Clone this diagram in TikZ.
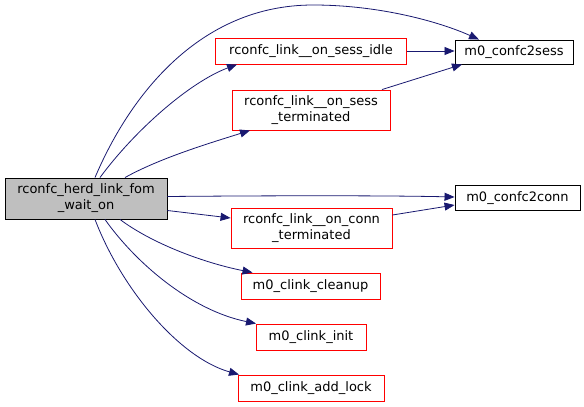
\documentclass[tikz,border=0pt]{standalone}
\usepackage{fontspec}
\setmainfont{DejaVu Sans}
\usetikzlibrary{arrows.meta}
\definecolor{edgecol}{HTML}{191970}
\definecolor{mainfill}{HTML}{BFBFBF}
\tikzset{
  fbox/.style={draw=black, line width=0.9pt, inner sep=0pt, align=center,
    font=\fontsize{13}{16}\selectfont},
  blackbox/.style={fbox, fill=white},
  redbox/.style={fbox, draw=red, fill=white},
  mainbox/.style={fbox, fill=mainfill},
  edge/.style={draw=edgecol, line width=0.8pt, -{Triangle[length=10pt,width=8pt]}},
}
\begin{document}
\begin{tikzpicture}[x=1pt,y=-1pt]
\useasboundingbox (0,0) rectangle (584,407);
\node[mainbox, minimum width=162pt, minimum height=41pt] (main) at (86,198.5) {rconfc\_herd\_link\_fom\\\_wait\_on};
\node[redbox, minimum width=191pt, minimum height=26pt] (idle) at (311,51) {rconfc\_link\_\_on\_sess\_idle};
\node[blackbox, minimum width=118pt, minimum height=24pt] (c2sess) at (514,52) {m0\_confc2sess};
\node[redbox, minimum width=158pt, minimum height=40pt] (sessterm) at (311,110) {rconfc\_link\_\_on\_sess\\\_terminated};
\node[blackbox, minimum width=125pt, minimum height=25pt] (c2conn) at (517.5,198) {m0\_confc2conn};
\node[redbox, minimum width=161pt, minimum height=40pt] (connterm) at (311.5,228) {rconfc\_link\_\_on\_conn\\\_terminated};
\node[redbox, minimum width=139pt, minimum height=26pt] (cleanup) at (310.5,286) {m0\_clink\_cleanup};
\node[redbox, minimum width=110pt, minimum height=26pt] (init) at (311,337) {m0\_clink\_init};
\node[redbox, minimum width=146pt, minimum height=26pt] (addlock) at (311,388) {m0\_clink\_add\_lock};

\draw[edge] ([xshift=9pt]main.north) .. controls (130,95) and (200,5) .. (313,5) .. controls (380,5) and (440,22) .. ([xshift=-35pt]c2sess.north);
\draw[edge] ([xshift=14pt]main.north) .. controls (135,130) and (190,82) .. ([xshift=-74pt]idle.south);
\draw[edge] ([xshift=39pt]main.north) .. controls (160,158) and (210,143) .. ([xshift=-61pt]sessterm.south);
\draw[edge] (idle.east) -- (c2sess.west |- idle.east);
\draw[edge] ([xshift=71pt]sessterm.north) -- ([xshift=-52pt]c2sess.south);
\draw[edge] ([yshift=2pt]main.east) .. controls (280,195.5) and (390,195.5) .. ([yshift=1pt]c2conn.west);
\draw[edge] ([yshift=-12pt]main.east) -- ([yshift=10pt]connterm.west);
\draw[edge] ([yshift=13pt]connterm.east) -- ([yshift=-7pt]c2conn.west);
\draw[edge] ([xshift=34pt]main.south) .. controls (150,242) and (200,262) .. ([xshift=-58pt]cleanup.north);
\draw[edge] ([xshift=19pt]main.south) .. controls (135,262) and (190,310) .. ([xshift=-55pt]init.north);
\draw[edge] ([xshift=9pt]main.south) .. controls (122,290) and (180,358) .. ([xshift=-72pt]addlock.north);
\end{tikzpicture}
\end{document}
